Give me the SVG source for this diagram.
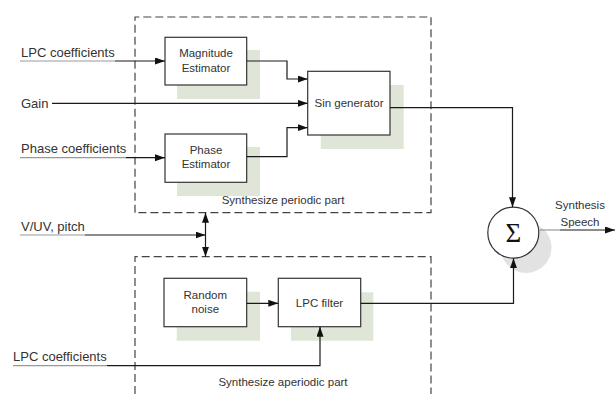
<svg xmlns="http://www.w3.org/2000/svg" width="615" height="394" viewBox="0 0 615 394">
  <style>
    .lbl { font-family: "Liberation Sans", Arial, sans-serif; font-size: 13px; fill: #333; }
    .box-t { font-family: "Liberation Sans", Arial, sans-serif; font-size: 11.5px; fill: #333; text-anchor: middle; }
    .box { fill: #fff; stroke: #333; stroke-width: 1.2; }
    .shadow { fill: #dfe6d7; }
    .wire { fill: none; stroke: #1a1a1a; stroke-width: 1.2; }
    .under { fill: none; stroke: #999; stroke-width: 1.2; }
    .dash { fill: none; stroke: #444; stroke-width: 1.2; stroke-dasharray: 8 4; }
  </style>
  <defs>
    <marker id="arrow" markerUnits="userSpaceOnUse" markerWidth="11" markerHeight="8" refX="10" refY="3.5" orient="auto">
      <path d="M0,0 L10,3.5 L0,7 z" fill="#111"/>
    </marker>
    <marker id="arrow-start" markerUnits="userSpaceOnUse" markerWidth="11" markerHeight="8" refX="0" refY="3.5" orient="auto">
      <path d="M10,0 L0,3.5 L10,7 z" fill="#111"/>
    </marker>
  </defs>

  <rect width="615" height="394" fill="#fff"/>

  <!-- block groups -->
  <g id="periodic-part">
    <path class="dash" d="M135,212.7 V17 H431 V212.7 H135"/>
    <text class="box-t" x="283" y="204">Synthesize periodic part</text>
  </g>
  <g id="aperiodic-part">
    <path class="dash" d="M135,394 V256.7 H431 V394"/>
    <text class="box-t" x="283" y="385.5">Synthesize aperiodic part</text>
  </g>

  <g id="magnitude-estimator">
    <rect class="shadow" x="177" y="50" width="83" height="49"/>
    <rect class="box" x="165" y="37.3" width="81.7" height="47.7"/>
    <text class="box-t" x="206" y="56.7">Magnitude</text>
    <text class="box-t" x="206" y="71.7">Estimator</text>
  </g>

  <g id="phase-estimator">
    <rect class="shadow" x="177" y="147" width="83" height="49"/>
    <rect class="box" x="165" y="134" width="81.7" height="48.3"/>
    <text class="box-t" x="206" y="154">Phase</text>
    <text class="box-t" x="206" y="168.3">Estimator</text>
  </g>

  <g id="sin-generator">
    <rect class="shadow" x="320.7" y="85" width="83" height="64"/>
    <rect class="box" x="307.7" y="71.3" width="82.3" height="63.7"/>
    <text class="box-t" x="349" y="107">Sin generator</text>
  </g>

  <g id="random-noise">
    <rect class="shadow" x="176.7" y="291.7" width="83.3" height="49"/>
    <rect class="box" x="164" y="278.3" width="82.7" height="48.4"/>
    <text class="box-t" x="205.3" y="298.5">Random</text>
    <text class="box-t" x="205.3" y="313">noise</text>
  </g>

  <g id="lpc-filter">
    <rect class="shadow" x="291" y="292.3" width="82.3" height="48.4"/>
    <rect class="box" x="278.3" y="278.3" width="82.4" height="48.4"/>
    <text class="box-t" x="319.5" y="306.5">LPC filter</text>
  </g>

  <g id="summer">
    <circle cx="526" cy="247.5" r="25.5" fill="#e2e2e2"/>
    <circle cx="513.3" cy="232.7" r="25.5" fill="#fff" stroke="#333" stroke-width="1.2"/>
    <text x="513.3" y="242" text-anchor="middle" font-family="'Liberation Serif', 'Times New Roman', serif" font-size="27" fill="#111">Σ</text>
  </g>

  <!-- input / output labels -->
  <g id="labels">
    <text class="lbl" x="21" y="56.5">LPC coefficients</text>
    <text class="lbl" x="21" y="107.8">Gain</text>
    <text class="lbl" x="21" y="153.3">Phase coefficients</text>
    <text class="lbl" x="21" y="230.5">V/UV, pitch</text>
    <text class="lbl" x="13" y="360.5">LPC coefficients</text>
    <text class="box-t" x="580" y="209" font-size="12">Synthesis</text>
    <text class="box-t" x="580" y="226" font-size="12">Speech</text>
  </g>

  <!-- connectors -->
  <g id="connectors">
    <line class="under" x1="20" y1="61" x2="115" y2="61"/>
    <path class="wire" d="M115,61 H165" marker-end="url(#arrow)"/>

    <path class="wire" d="M52,103.3 H307.7" marker-end="url(#arrow)"/>

    <line class="under" x1="20" y1="157.7" x2="126" y2="157.7"/>
    <path class="wire" d="M126,157.7 H165" marker-end="url(#arrow)"/>

    <path class="wire" d="M246.7,61 H287 V79 H307.7" marker-end="url(#arrow)"/>
    <path class="wire" d="M246.7,156.7 H287 V127.7 H307.7" marker-end="url(#arrow)"/>

    <path class="wire" d="M390,107.7 H512.5 V207.2" marker-end="url(#arrow)"/>

    <line class="under" x1="20" y1="235" x2="85" y2="235"/>
    <path class="wire" d="M85,235 H205.5" marker-end="url(#arrow)"/>
    <path class="wire" d="M205.5,212.7 V256.7" marker-start="url(#arrow-start)" marker-end="url(#arrow)"/>

    <path class="wire" d="M246.7,303.3 H278.3" marker-end="url(#arrow)"/>
    <path class="wire" d="M360.7,303.3 H513.5 V258.2" marker-end="url(#arrow)"/>

    <line class="under" x1="13" y1="365.7" x2="107" y2="365.7"/>
    <path class="wire" d="M107,365.7 H320 V326.7" marker-end="url(#arrow)"/>

    <path class="under" d="M538.8,230 H560" stroke="#777"/>
    <path class="wire" d="M560,230 H615" stroke="#555" marker-end="url(#arrow)"/>
  </g>
</svg>
